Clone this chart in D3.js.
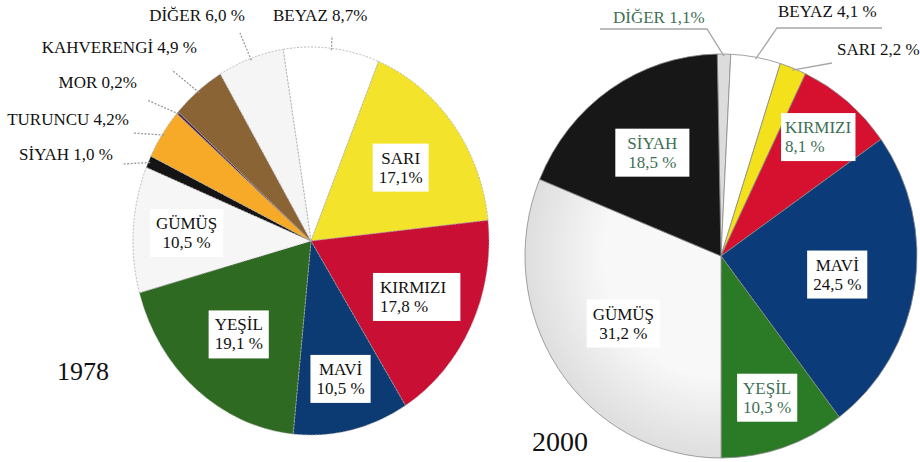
<!DOCTYPE html>
<html>
<meta charset="utf-8" />
<script src="https://d3js.org/d3.v7.min.js"></script>
<style>
  body { margin: 0; background: #fff; }
</style>
<body>
<svg id="chart" width="920" height="462"></svg>
<script>
// 1978 data, clockwise from the top
var cats1978 = ["BEYAZ", "SARI", "KIRMIZI", "MAVİ", "YEŞİL", "GÜMÜŞ", "SİYAH", "TURUNCU", "MOR", "KAHVERENGİ", "DİĞER"]
var vals1978 = [8.7, 17.1, 17.8, 10.5, 19.1, 10.5, 1.0, 4.2, 0.2, 4.9, 6.0]
var pct1978 = ["8,7%", "17,1%", "17,8 %", "10,5 %", "19,1 %", "10,5 %", "1,0 %", "4,2%", "0,2%", "4,9 %", "6,0 %"]

// 2000 data, clockwise from the top
var cats2000 = ["DİĞER", "BEYAZ", "SARI", "KIRMIZI", "MAVİ", "YEŞİL", "GÜMÜŞ", "SİYAH"]
var vals2000 = [1.1, 4.1, 2.2, 8.1, 24.5, 10.3, 31.2, 18.5]
var pct2000 = ["1,1%", "4,1 %", "2,2 %", "8,1 %", "24,5 %", "10,3 %", "31,2 %", "18,5 %"]

var svg = d3.select("#chart")
var serif = "Liberation Serif"

// gradient for the silver slice of 2000
var defs = svg.append("defs")
var grad = defs.append("radialGradient").attr("id", "silver")
  .attr("gradientUnits", "userSpaceOnUse").attr("cx", 0).attr("cy", 0).attr("r", 196)
grad.append("stop").attr("offset", "0.6").attr("stop-color", "#f8f8f8")
grad.append("stop").attr("offset", "1").attr("stop-color", "#dedede")

var colors1978 = {
  "BEYAZ": "#ffffff", "SARI": "#f4e32b", "KIRMIZI": "#c90f33", "MAVİ": "#0c3a73",
  "YEŞİL": "#2f6a22", "GÜMÜŞ": "#f6f6f6", "SİYAH": "#141414", "TURUNCU": "#f7a928",
  "MOR": "#4a2050", "KAHVERENGİ": "#8b6436", "DİĞER": "#f5f5f5"
}
var colors2000 = {
  "DİĞER": "#dcdcdc", "BEYAZ": "#ffffff", "SARI": "#f3e11c", "KIRMIZI": "#d6102f",
  "MAVİ": "#0b3b78", "YEŞİL": "#2b7a26", "GÜMÜŞ": "url(#silver)", "SİYAH": "#171717"
}
var green = "#3e6f55"

function drawPie(o) {
  var data = o.cats.map(function(c, i) { return { cat: c, v: o.vals[i], pct: o.pcts[i] } })
  var arcs = d3.pie().sort(null).value(function(d) { return d.v })
    .startAngle(o.start).endAngle(o.start + 2 * Math.PI)(data)
  var arc = d3.arc().innerRadius(0).outerRadius(o.rx)

  // polar point on the ellipse
  function pt(a, k) {
    return [o.cx + Math.sin(a) * o.rx * k, o.cy - Math.cos(a) * o.ry * k]
  }
  function mid(d) { return (d.startAngle + d.endAngle) / 2 }

  var g = svg.append("g")
    .attr("transform", "translate(" + o.cx + "," + o.cy + ") scale(1," + (o.ry / o.rx) + ")")
  g.selectAll("path").data(arcs).enter().append("path")
    .attr("d", arc)
    .attr("fill", function(d) { return o.colors[d.data.cat] })
    .attr("stroke", o.stroke)
    .attr("stroke-width", 0.8)
    .attr("stroke-dasharray", o.dash)
    .attr("vector-effect", "non-scaling-stroke")

  // leader lines and outside labels
  arcs.forEach(function(d) {
    var L = o.outside[d.data.cat]
    if (!L) return
    var pts = [pt(mid(d), 0.99)].concat(L.line)
    svg.append("path")
      .attr("d", d3.line()(pts))
      .attr("fill", "none")
      .attr("stroke", o.lineColor)
      .attr("stroke-width", 1.3)
      .attr("stroke-dasharray", o.lineDash)
    svg.append("text")
      .attr("x", L.x).attr("y", L.y)
      .attr("text-anchor", L.anchor)
      .style("font-family", serif)
      .attr("font-size", 17)
      .attr("fill", L.color || "#111")
      .text(d.data.cat + " " + d.data.pct)
  })

  // inside labels in white boxes
  arcs.forEach(function(d) {
    var L = o.inside[d.data.cat]
    if (!L) return
    var p = pt(mid(d), L.k)
    var lg = svg.append("g")
    var box = lg.append("rect").attr("fill", "#fff")
    var t = lg.append("text")
      .style("font-family", serif)
      .attr("font-size", 17)
      .attr("fill", L.color || "#111")
      .attr("text-anchor", L.left ? "start" : "middle")
    t.append("tspan").attr("x", 0).attr("y", -3.5).text(d.data.cat)
    t.append("tspan").attr("x", 0).attr("y", 15.5).text(d.data.pct)
    var bb = t.node().getBBox()
    var padL = L.padL || 6, padR = L.padR || 6
    box.attr("x", bb.x - padL).attr("y", bb.y - 5)
      .attr("width", bb.width + padL + padR).attr("height", bb.height + 10)
    var bx = bb.x - padL + (bb.width + padL + padR) / 2
    var by = bb.y - 5 + (bb.height + 10) / 2
    lg.attr("transform", "translate(" + (p[0] - bx) + "," + (p[1] - by) + ")")
  })
}

drawPie({
  cats: cats1978, vals: vals1978, pcts: pct1978, colors: colors1978,
  cx: 311, cy: 241, rx: 178, ry: 194, start: -9 * Math.PI / 180,
  stroke: "#a8a8a8", dash: "2,1.5", lineColor: "#9a9a9a", lineDash: "2,1.5",
  inside: {
    "SARI": { k: 0.63 },
    "KIRMIZI": { k: 0.66, left: true, padL: 7, padR: 14 },
    "MAVİ": { k: 0.73 },
    "YEŞİL": { k: 0.63 },
    "GÜMÜŞ": { k: 0.70 }
  },
  outside: {
    "DİĞER": { x: 245, y: 21, anchor: "end", line: [[240, 33]] },
    "BEYAZ": { x: 273, y: 21, anchor: "start", line: [[332, 36]] },
    "KAHVERENGİ": { x: 197, y: 53, anchor: "end", line: [[172, 70]] },
    "MOR": { x: 137, y: 88, anchor: "end", line: [[147, 100]] },
    "TURUNCU": { x: 129, y: 125, anchor: "end", line: [[133, 133]] },
    "SİYAH": { x: 113, y: 160, anchor: "end", line: [[122, 164]] }
  }
})

drawPie({
  cats: cats2000, vals: vals2000, pcts: pct2000, colors: colors2000,
  cx: 721, cy: 256, rx: 196, ry: 202, start: -1.1 * Math.PI / 180,
  stroke: "#8a8a8a", dash: null, lineColor: "#a6a6a6", lineDash: null,
  inside: {
    "KIRMIZI": { k: 0.77, left: true, color: green, padL: 4, padR: 4 },
    "MAVİ": { k: 0.60 },
    "YEŞİL": { k: 0.74, color: green },
    "GÜMÜŞ": { k: 0.60 },
    "SİYAH": { k: 0.62, color: green, padL: 12, padR: 12 }
  },
  outside: {
    "DİĞER": { x: 613, y: 23, anchor: "start", color: green, line: [[707, 29], [600, 29]] },
    "BEYAZ": { x: 778, y: 17, anchor: "start", line: [[777, 28], [882, 28]] },
    "SARI": { x: 837, y: 55, anchor: "start", line: [[832, 63]] }
  }
})

// year captions
svg.append("text").attr("x", 57).attr("y", 380).style("font-family", serif)
  .attr("font-size", 26).attr("fill", "#111").text("1978")
svg.append("text").attr("x", 532).attr("y", 451).style("font-family", serif)
  .attr("font-size", 28).attr("fill", "#111").text("2000")
</script>
</body>
</html>
